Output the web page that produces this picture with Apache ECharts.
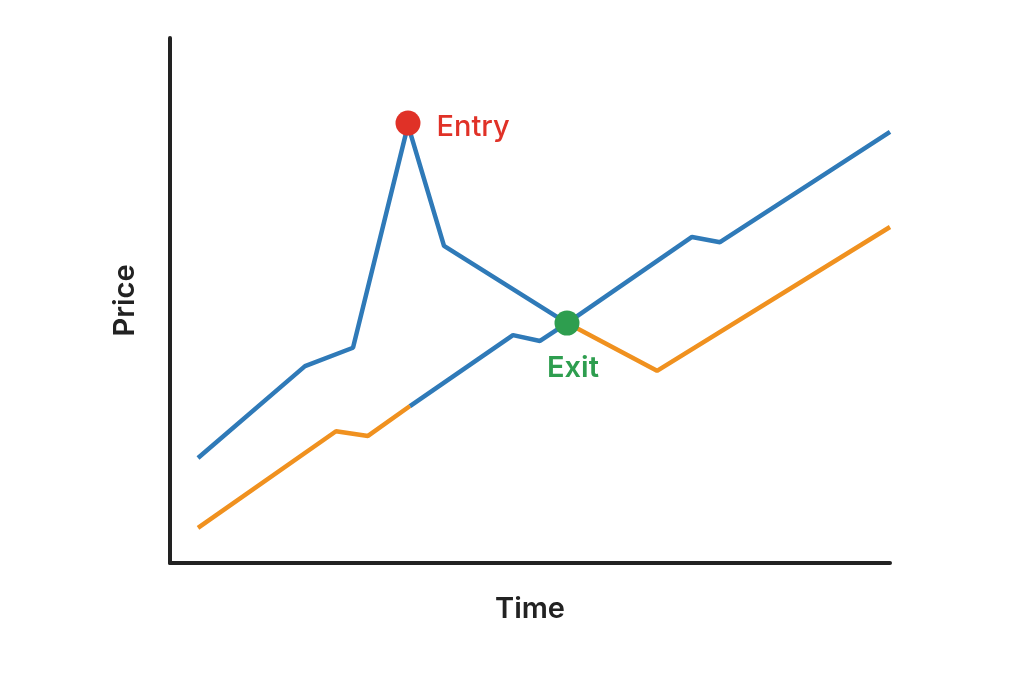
<!DOCTYPE html>
<html><head><meta charset="utf-8">
<script src="https://cdn.jsdelivr.net/npm/echarts@6/dist/echarts.min.js"></script>
<style>html,body{margin:0;background:#fff}#c{width:1024px;height:683px}</style>
</head><body><div id="c"></div>
<script>
const upperX = [2.8, 13.5, 18.3, 23.8, 27.4, 39.7, 52.2, 55, 72];
const upperY = [20, 37.5, 41, 83.4, 60.4, 45.7, 62.1, 61.1, 82.1];
const lowerAX = [2.8, 16.6, 19.8, 24];
const lowerAY = [6.7, 25.1, 24.2, 29.9];
const lowerBX = [24, 34.3, 37, 39.7];
const lowerBY = [29.9, 43.4, 42.3, 45.7];
const lowerCX = [39.7, 48.7, 72];
const lowerCY = [45.7, 36.6, 64];
const entry = [23.8, 83.8];
const exit = [39.7, 45.7];
const BLUE = '#2f7ab8', ORANGE = '#f0911f';
const zip = (xs, ys) => xs.map((x, i) => [x, ys[i]]);
const line = (d, c) => ({type:'line', data:d, symbol:'none', lineStyle:{color:c, width:4.5}, z:2});
const chart = echarts.init(document.getElementById('c'));
chart.setOption({
  animation:false,
  grid:{left:170, right:134, top:38, bottom:120},
  xAxis:{type:'value', min:0, max:72, name:'Time', nameLocation:'middle', nameGap:32,
    nameTextStyle:{fontSize:29, fontWeight:600, color:'#222', fontFamily:'Inter'},
    axisLine:{lineStyle:{color:'#222', width:4}}, axisTick:{show:false}, axisLabel:{show:false}, splitLine:{show:false}},
  yAxis:{type:'value', min:0, max:100, name:'Price', nameLocation:'middle', nameGap:30,
    nameTextStyle:{fontSize:29, fontWeight:600, color:'#222', fontFamily:'Inter'},
    axisLine:{show:true, lineStyle:{color:'#222', width:4}}, axisTick:{show:false}, axisLabel:{show:false}, splitLine:{show:false}},
  series:[
    line(zip(lowerAX, lowerAY), ORANGE),
    line(zip(lowerBX, lowerBY), BLUE),
    line(zip(lowerCX, lowerCY), ORANGE),
    line(zip(upperX, upperY), BLUE),
    {type:'scatter', data:[entry], symbolSize:25, itemStyle:{color:'#e03127', opacity:1}, z:5,
     label:{show:true, position:'right', distance:16, offset:[0,4], formatter:'Entry', color:'#e03127', fontSize:29, fontWeight:500, fontFamily:'Inter'}},
    {type:'scatter', data:[exit], symbolSize:25, itemStyle:{color:'#2e9e4f', opacity:1}, z:5,
     label:{show:true, position:'bottom', distance:18, offset:[6,0], formatter:'Exit', color:'#2e9e4f', fontSize:29, fontWeight:600, fontFamily:'Inter'}}
  ]
});
</script></body></html>
